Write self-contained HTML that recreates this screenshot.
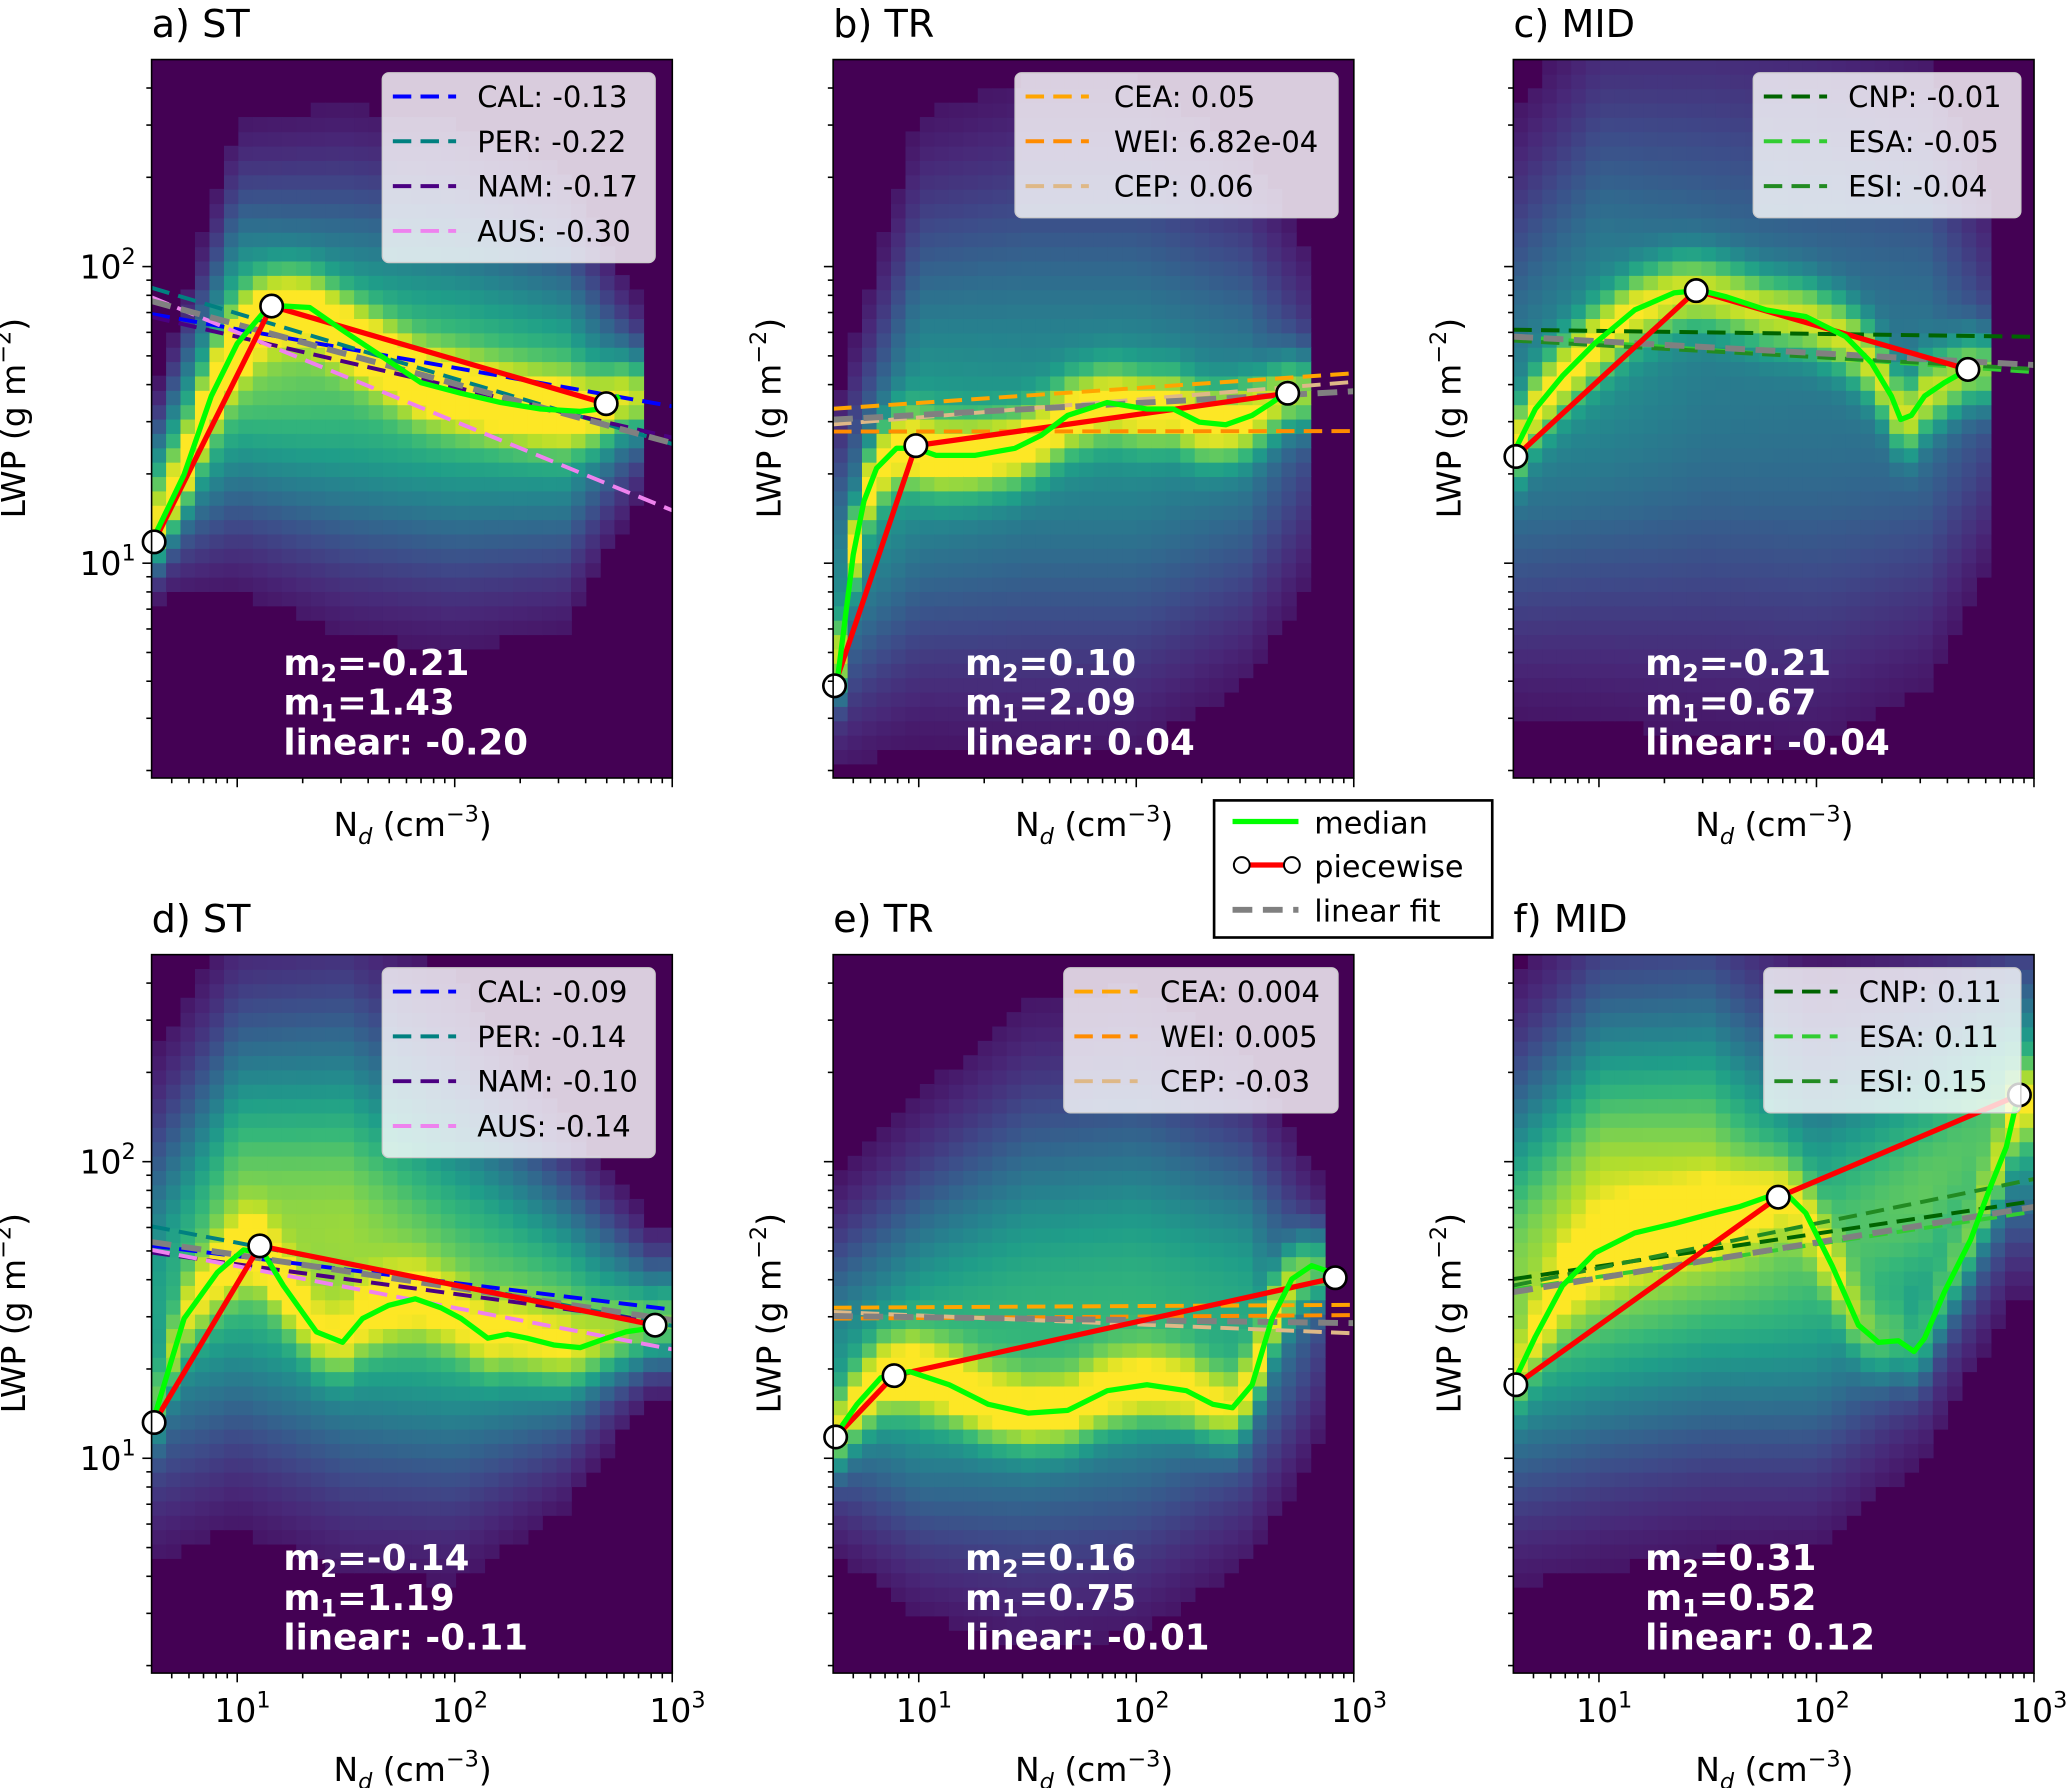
<!DOCTYPE html>
<html><head><meta charset="utf-8"><style>
html,body{margin:0;padding:0;background:#fff;}
svg{display:block;font-family:"DejaVu Sans","Liberation Sans",sans-serif;}
</style></head><body>
<svg id="fig" width="2067" height="1788" viewBox="0 0 1568 1356" xmlns="http://www.w3.org/2000/svg">
<defs></defs>
</svg>
<script>
// ---------- data ----------
const knotsLogN=[0.6,1.0,1.5,2.0,2.5,2.9];
// panel a
const aMedN=[4.2,5.7,7.6,10,13.2,16.3,21.5,30.5,46,70,107,163,248,377,465,573];
const aMedL=[12.5,19.9,36.6,55,70,73.6,72.8,61,49.9,40.6,37.4,34.8,33.1,32.5,33.1,36.6];
const aPieceN=[4.15,14.4,497];
const aPieceL=[11.8,73.6,34.5];
const aRegNames=["CAL","PER","NAM","AUS"];
const aRegSlopes=["-0.13","-0.22","-0.17","-0.30"];
const aRegAt10=[61.5,69.5,58,60];
const aLinSlope=-0.20, aLinAt10=63.8;
// panel b
const bMedN=[4.2,4.5,5.0,5.6,6.4,7.9,9.7,12,18.2,27.7,36.6,48.4,73.6,112,148,195,258,341,421,484];
const bMedL=[3.9,5.8,10.7,16.2,20.9,24.4,24.4,23.1,23.1,24.4,27,31.5,34.8,33.1,33.1,29.9,29.3,31.5,34.8,37.4];
const bPieceN=[4.1,9.7,497];
const bPieceL=[3.86,24.9,37.4];
const bRegNames=["CEA","WEI","CEP"];
const bRegSlopes=["0.05","6.82e-04","0.06"];
const bRegAt10=[34.7,27.8,31];
const bLinSlope=0.04, bLinAt10=31.6;
// panel c
const cMedN=[4.15,5.1,6.8,9.6,14.6,22.1,29.3,38.7,58.9,89.3,136,179,221,244,273,314,387,497];
const cMedL=[24.4,33.1,42.8,55.2,71.4,81.5,83.2,79,71.4,67.8,58.1,47.4,36.6,30.5,31.5,36.6,40.6,45];
const cPieceN=[4.15,28,497];
const cPieceL=[22.9,83,45];
const cRegNames=["CNP","ESA","ESI"];
const cRegSlopes=["-0.01","-0.05","-0.04"];
const cRegAt10=[60.7,55.5,54.3];
const cLinSlope=-0.04, cLinAt10=56;
// panel d
const dMedN=[4.15,5.7,8.1,10.7,13.2,16.3,23.1,30.5,37.7,49.8,65.8,86.9,107,142,175,215,285,377,498,614,757,869];
const dMedL=[13.7,29.6,42.3,50.4,49.3,38.2,26.7,24.6,29.6,32.8,34.5,32.1,29.6,25.4,26.2,25.4,24.1,23.6,25.4,26.7,27.3,28.1];
const dPieceN=[4.15,12.7,834];
const dPieceL=[13.2,52,28.1];
const dRegNames=["CAL","PER","NAM","AUS"];
const dRegSlopes=["-0.09","-0.14","-0.10","-0.14"];
const dRegAt10=[48,53.3,45.1,44.4];
const dLinSlope=-0.11, dLinAt10=48.5;
// panel e
const eMedN=[4.15,5.2,6.7,9.1,13.8,20.9,31.8,48.4,73.6,112,170,225,277,341,421,519,640,789];
const eMedL=[12,15.2,18.7,19.6,17.7,15.2,14.2,14.5,16.9,17.7,16.9,15.2,14.8,17.7,29.6,40.2,44.6,42.3];
const ePieceN=[4.15,7.7,822];
const ePieceL=[11.8,19,40.6];
const eRegNames=["CEA","WEI","CEP"];
const eRegSlopes=["0.004","0.005","-0.03"];
const eRegAt10=[32.3,29.7,30.3];
const eLinSlope=-0.01, eLinAt10=29.9;
// panel f
const fMedN=[4.15,5.1,6.8,9.6,14.6,22.1,33.7,44.5,58.9,72.4,89.3,118,156,193,238,281,314,387,512,631,746,834];
const fMedL=[18.7,25.7,38.2,49.3,57.5,61.8,67.1,70.6,75.9,78.2,67.1,44.6,28.1,24.6,24.9,22.9,25.4,36.3,54.7,82.4,112,160];
const fPieceN=[4.15,66.7,857];
const fPieceL=[17.7,75.9,168];
const fRegNames=["CNP","ESA","ESI"];
const fRegSlopes=["0.11","0.11","0.15"];
const fRegAt10=[44.4,40.9,43.8];
const fLinSlope=0.12, fLinAt10=40.5;
// histogram shape knots (log10 LWP centre, spread, peak) per panel
const aHistC=[1.2,1.7,1.65,1.6,1.55,1.55], aHistS=[0.15,0.35,0.4,0.4,0.35,0.15], aHistP=[0.6,0.8,0.72,0.72,0.7,0.35];
const bHistC=[0.9,1.45,1.5,1.5,1.5,1.5], bHistS=[0.3,0.5,0.55,0.55,0.45,0.3], bHistP=[0.45,0.55,0.5,0.5,0.45,0.15];
const cHistC=[1.5,1.7,1.7,1.65,1.65,1.6], cHistS=[0.5,0.6,0.65,0.65,0.55,0.3], cHistP=[0.45,0.5,0.42,0.4,0.4,0.2];
const dHistC=[1.5,1.8,1.75,1.6,1.5,1.5], dHistS=[0.4,0.45,0.5,0.45,0.3,0.15], dHistP=[0.55,0.82,0.85,0.75,0.72,0.45];
const eHistC=[1.3,1.35,1.45,1.5,1.5,1.5], eHistS=[0.3,0.4,0.5,0.5,0.4,0.25], eHistP=[0.5,0.65,0.65,0.65,0.6,0.15];
const fHistC=[1.6,1.8,1.85,1.7,1.9,2.2], fHistS=[0.45,0.5,0.5,0.45,0.4,0.3], fHistP=[0.8,0.95,0.9,0.7,0.75,0.7];
const annotM2=["-0.21","0.10","-0.21","-0.14","0.16","0.31"];
const annotM1=["1.43","2.09","0.67","1.19","0.75","0.52"];
const annotLin=["-0.20","0.04","-0.04","-0.11","-0.01","0.12"];

// ---------- styles ----------
const regColorsST=["#0000ff","#008080","#4b0082","#ee82ee"];
const regColorsTR=["#ffa500","#ff8c00","#deb887"];
const regColorsMID=["#006400","#32cd32","#228b22"];
const svg=document.getElementById('fig');
const NS="http://www.w3.org/2000/svg";
const LXMIN=Math.log10(4.04), LXMAX=3, LYMIN=0.276, LYMAX=2.698;
const W=395, H=545, DX=165, DY=225;
function mk(tag,attrs,parent){const e=document.createElementNS(NS,tag);for(const k in attrs)e.setAttribute(k,attrs[k]);(parent||svg).appendChild(e);return e;}
const viridis=[[68,1,84],[72,40,120],[62,74,137],[49,104,142],[38,130,142],[31,158,137],[53,183,121],[110,206,88],[181,222,43],[253,231,37]];
function vcol(t){t=Math.max(0,Math.min(1,t))*(viridis.length-1);const i=Math.min(viridis.length-2,Math.floor(t)),f=t-i;const a=viridis[i],b=viridis[i+1];return `rgb(${Math.round(a[0]+(b[0]-a[0])*f)},${Math.round(a[1]+(b[1]-a[1])*f)},${Math.round(a[2]+(b[2]-a[2])*f)})`;}
function interp(xs,ys,x){if(x<=xs[0])return ys[0];for(let i=1;i<xs.length;i++){if(x<=xs[i]){const f=(x-xs[i-1])/(xs[i]-xs[i-1]);return ys[i-1]+(ys[i]-ys[i-1])*f;}}return ys[ys.length-1];}

const panels=[
 {k:'a',title:'a) ST',x0:115,y0:45,bottom:false,ylab:true,medN:aMedN,medL:aMedL,pN:aPieceN,pL:aPieceL,rn:aRegNames,rs:aRegSlopes,r10:aRegAt10,rc:regColorsST,ls:aLinSlope,l10:aLinAt10,hc:aHistC,hs:aHistS,hp:aHistP,band:0.5,cut:2.85,leg:[290,497,362]},
 {k:'b',title:'b) TR',x0:632,y0:45,bottom:false,ylab:false,medN:bMedN,medL:bMedL,pN:bPieceN,pL:bPieceL,rn:bRegNames,rs:bRegSlopes,r10:bRegAt10,rc:regColorsTR,ls:bLinSlope,l10:bLinAt10,hc:bHistC,hs:bHistS,hp:bHistP,band:0.6,cut:2.8,leg:[770,1015,845]},
 {k:'c',title:'c) MID',x0:1148,y0:45,bottom:false,ylab:false,medN:cMedN,medL:cMedL,pN:cPieceN,pL:cPieceL,rn:cRegNames,rs:cRegSlopes,r10:cRegAt10,rc:regColorsMID,ls:cLinSlope,l10:cLinAt10,hc:cHistC,hs:cHistS,hp:cHistP,band:0.55,cut:2.8,leg:[1330,1533,1402]},
 {k:'d',title:'d) ST',x0:115,y0:724,bottom:true,ylab:true,medN:dMedN,medL:dMedL,pN:dPieceN,pL:dPieceL,rn:dRegNames,rs:dRegSlopes,r10:dRegAt10,rc:regColorsST,ls:dLinSlope,l10:dLinAt10,hc:dHistC,hs:dHistS,hp:dHistP,band:0.35,cut:3.1,leg:[290,497,362]},
 {k:'e',title:'e) TR',x0:632,y0:724,bottom:true,ylab:false,medN:eMedN,medL:eMedL,pN:ePieceN,pL:ePieceL,rn:eRegNames,rs:eRegSlopes,r10:eRegAt10,rc:regColorsTR,ls:eLinSlope,l10:eLinAt10,hc:eHistC,hs:eHistS,hp:eHistP,band:0.55,cut:2.85,leg:[807,1015,880]},
 {k:'f',title:'f) MID',x0:1148,y0:724,bottom:true,ylab:false,medN:fMedN,medL:fMedL,pN:fPieceN,pL:fPieceL,rn:fRegNames,rs:fRegSlopes,r10:fRegAt10,rc:regColorsMID,ls:fLinSlope,l10:fLinAt10,hc:fHistC,hs:fHistS,hp:fHistP,band:0.3,cut:3.1,leg:[1338,1533,1410]}
];

panels.forEach(p=>{
  const X=n=>p.x0+(Math.log10(n)-LXMIN)*DX;
  const XL=l=>p.x0+(l-LXMIN)*DX;
  const Y=v=>p.y0+(LYMAX-Math.log10(v))*DY;
  const YL=l=>p.y0+(LYMAX-l)*DY;
  const g=mk('g',{});
  
  
  const clip=mk('clipPath',{id:'clip-'+p.k},svg.querySelector('defs'));
  mk('rect',{x:p.x0,y:p.y0,width:W,height:H},clip);
  const bg=mk('rect',{x:p.x0,y:p.y0,width:W,height:H,fill:'#440154'},g);
  
  
  const hm=mk('g',{'clip-path':`url(#clip-${p.k})`},g);
  
  
  const nx=36, ny=50, dlx=(LXMAX-LXMIN)/nx, dly=(LYMAX-LYMIN)/ny;
  const mlN=p.medN.map(Math.log10), mlL=p.medL.map(Math.log10);
  for(let i=0;i<nx;i++){
    const lx=LXMIN+(i+0.5)*dlx;
    if(lx>p.cut) continue;
    const c=interp(knotsLogN,p.hc,lx), s=interp(knotsLogN,p.hs,lx), pk=interp(knotsLogN,p.hp,lx);
    const m=interp(mlN,mlL,lx);
    for(let j=0;j<ny;j++){
      const ly=LYMIN+(j+0.5)*dly;
      let v=pk*Math.exp(-0.5*Math.pow((ly-c)/s,2))+p.band*Math.exp(-0.5*Math.pow((ly-m)/0.09,2));
      if(v<0.06) continue;
      const r=mk('rect',{x:XL(LXMIN+i*dlx).toFixed(1),y:YL(LYMIN+(j+1)*dly).toFixed(1),width:(dlx*DX+0.6).toFixed(1),height:(dly*DY+0.6).toFixed(1),fill:vcol(v)},hm);
      
      
    }
  }
  const lg=mk('g',{'clip-path':`url(#clip-${p.k})`},g);
  const n0=4.04,n1=1000;
  p.rn.forEach((nm,i)=>{
    const sl=parseFloat(p.rs[i]);
    const f=n=>p.r10[i]*Math.pow(n/10,sl);
    const l=mk('line',{x1:X(n0),y1:Y(f(n0)),x2:X(n1),y2:Y(f(n1)),stroke:p.rc[i],'stroke-width':3,'stroke-dasharray':'14 7'},lg);
    
    
  });
  const fl=n=>p.l10*Math.pow(n/10,p.ls);
  const lin=mk('line',{x1:X(n0),y1:Y(fl(n0)),x2:X(n1),y2:Y(fl(n1)),stroke:'#808080','stroke-width':4.5,'stroke-dasharray':'15 8'},lg);
  
  
  const pw=mk('polyline',{points:p.pN.map((n,i)=>X(n)+','+Y(p.pL[i])).join(' '),fill:'none',stroke:'#ff0000','stroke-width':4},lg);
  
  
  const md=mk('polyline',{points:p.medN.map((n,i)=>X(n)+','+Y(p.medL[i])).join(' '),fill:'none',stroke:'#00ff00','stroke-width':4,'stroke-linejoin':'round'},lg);
  
  
  p.pN.forEach((n,i)=>{
    const c=mk('circle',{cx:X(n),cy:Y(p.pL[i]),r:8.5,fill:'#fff',stroke:'#000','stroke-width':2},g);
    
    
  });
  mk('rect',{x:p.x0,y:p.y0,width:W,height:H,fill:'none',stroke:'#000','stroke-width':1.2},g);
  const tg=mk('g',{stroke:'#000','stroke-width':1.2},g);
  for(let d=0;d<=3;d++)for(let m=1;m<=9;m++){
    const lx=d+Math.log10(m); if(lx<LXMIN-1e-6||lx>LXMAX+1e-6) continue;
    const x=XL(lx), len=m===1?7:4;
    mk('line',{x1:x,y1:p.y0+H,x2:x,y2:p.y0+H+len},tg);
  }
  for(let d=0;d<=2;d++)for(let m=1;m<=9;m++){
    const ly=d+Math.log10(m); if(ly<LYMIN||ly>LYMAX) continue;
    const y=YL(ly), len=m===1?7:4;
    mk('line',{x1:p.x0,y1:y,x2:p.x0-len,y2:y},tg);
  }
  if(p.ylab){
    [[1,'1'],[2,'2']].forEach(([ly,e])=>{
      const t=mk('text',{x:p.x0-12,y:YL(ly)+9,'font-size':25,'text-anchor':'end',fill:'#000'},g);
      
      
      t.innerHTML=`10<tspan dy="-11" font-size="17">${e}</tspan>`;
    });
  }
  if(p.bottom){
    [[1,'1'],[2,'2'],[3,'3']].forEach(([lx,e])=>{
      const t=mk('text',{x:XL(lx)+4,y:p.y0+H+37,'font-size':25,'text-anchor':'middle',fill:'#000'},g);
      
      
      t.innerHTML=`10<tspan dy="-11" font-size="17">${e}</tspan>`;
    });
  }
  const xl=mk('text',{x:p.x0+198,y:p.y0+H+(p.bottom?82:44),'font-size':25,'text-anchor':'middle',fill:'#000'},g);
  
  
  xl.innerHTML='N<tspan dy="6" font-size="17" font-style="italic">d</tspan><tspan dy="-6"> (cm</tspan><tspan dy="-11" font-size="17">−3</tspan><tspan dy="11">)</tspan>';
  const yx=p.x0-(p.ylab?96:40), yy=p.y0+272;
  const yl=mk('text',{x:yx,y:yy,'font-size':25,'text-anchor':'middle',fill:'#000',transform:`rotate(-90 ${yx} ${yy})`},g);
  
  
  yl.innerHTML='LWP (g m<tspan dy="-11" font-size="17">−2</tspan><tspan dy="11">)</tspan>';
  const tt=mk('text',{x:p.x0,y:p.y0-17,'font-size':29,fill:'#000'},g);
  
  
  tt.textContent=p.title;
  const [lx0,lx1,tx]=p.leg, nrow=p.rn.length, lh=34;
  const lb=mk('rect',{x:lx0,y:p.y0+10,width:lx1-lx0,height:nrow*lh+8,rx:5,fill:'#ffffff','fill-opacity':0.8,stroke:'#cccccc','stroke-width':1},g);
  
  
  p.rn.forEach((nm,i)=>{
    const y=p.y0+28+i*lh;
    const ll=mk('line',{x1:lx0+8,y1:y,x2:lx0+56,y2:y,stroke:p.rc[i],'stroke-width':3,'stroke-dasharray':'14 7'},g);
    
    
    const t=mk('text',{x:tx,y:y+8,'font-size':22,fill:'#000'},g);
    
    
    t.textContent=nm+': '+p.rs[i];
  });
  const idx=panels.indexOf(p);
  const an=mk('text',{x:p.x0+100,y:p.y0+467,'font-size':27,'font-weight':'bold',fill:'#fff'},g);
  
  
  an.innerHTML=`<tspan x="${p.x0+100}">m<tspan font-size="18" dy="5">2</tspan><tspan dy="-5">=${annotM2[idx]}</tspan></tspan><tspan x="${p.x0+100}" dy="30">m<tspan font-size="18" dy="5">1</tspan><tspan dy="-5">=${annotM1[idx]}</tspan></tspan><tspan x="${p.x0+100}" dy="30">linear: ${annotLin[idx]}</tspan>`;
});

const L=mk('g',{});


mk('rect',{x:921,y:607,width:211,height:104,fill:'#fff',stroke:'#000','stroke-width':2},L);
mk('line',{x1:935,y1:623,x2:985,y2:623,stroke:'#00ff00','stroke-width':4},L);
mk('line',{x1:942,y1:656,x2:980,y2:656,stroke:'#ff0000','stroke-width':4},L);
mk('circle',{cx:942,cy:656,r:6,fill:'#fff',stroke:'#000','stroke-width':1.5},L);
mk('circle',{cx:980,cy:656,r:6,fill:'#fff',stroke:'#000','stroke-width':1.5},L);
mk('line',{x1:935,y1:690,x2:985,y2:690,stroke:'#808080','stroke-width':4.5,'stroke-dasharray':'15 8'},L);
[['median',632],['piecewise',665],['linear fit',699]].forEach(([s,y])=>{
  const t=mk('text',{x:997,y:y,'font-size':23,fill:'#000'},L);
  
  
  t.textContent=s;
});
</script>
</body></html>
